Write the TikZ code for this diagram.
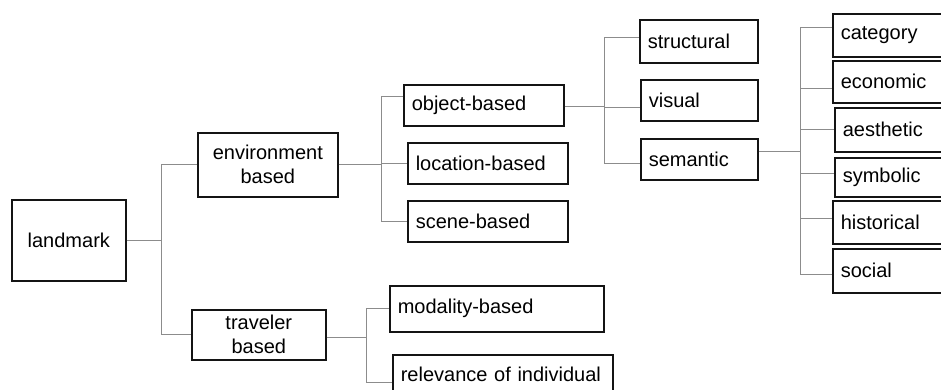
\documentclass[tikz,border=0pt]{standalone}
\usepackage{fontspec}
\setmainfont{Liberation Sans}
\begin{document}
\begin{tikzpicture}[x=1pt,y=-1pt,
  box/.style={draw=black!92, line width=1.6pt, anchor=north west,
    inner xsep=8pt, inner ysep=0pt, text=black,
    font=\fontsize{20}{24}\selectfont},
  lbox/.style={box, align=left, text width=#1-16pt},
  cbox/.style={box, align=center, text width=#1-16pt},
  conn/.style={draw=black!45, line width=1pt}]
\useasboundingbox (0,0) rectangle (941,390);
\clip (0,0) rectangle (941,390);

% root and first level
\node[cbox=114pt, minimum height=81pt] (landmark) at (11,199) {landmark};
\node[cbox=140pt, minimum height=64pt] (env) at (197,132) {environment\\based};
\node[cbox=134pt, minimum height=50pt] (trav) at (191,309) {traveler\\based};

% environment based
\node[lbox=160pt, minimum height=41pt] (obj) at (403,84) {object-based};
\node[lbox=160pt, minimum height=41pt] (loc) at (407,142) {location-based};
\node[lbox=160pt, minimum height=41pt] (scene) at (407,200) {scene-based};

% traveler based
\node[lbox=214pt, minimum height=46pt] (modal) at (389,285) {modality-based};
\node[lbox=220pt, minimum height=40pt] (relev) at (392,354) {relevance of individual};

% object-based
\node[lbox=118pt, minimum height=43pt] (struct) at (639,19) {structural};
\node[lbox=117pt, minimum height=41pt] (visual) at (640,79) {visual};
\node[lbox=117pt, minimum height=41pt] (sem) at (640,138) {semantic};

% semantic
\node[lbox=130pt, minimum height=43pt] (cat) at (832,13) {category};
\node[lbox=130pt, minimum height=42pt] (eco) at (832,60) {economic};
\node[lbox=130pt, minimum height=44pt] (aes) at (834,107) {aesthetic};
\node[lbox=130pt, minimum height=39pt] (sym) at (834,157) {symbolic};
\node[lbox=130pt, minimum height=43pt] (his) at (832,200) {historical};
\node[lbox=130pt, minimum height=44pt] (soc) at (832,248) {social};

% trunk positions
\coordinate (t1) at (161,0);
\coordinate (t2) at (381,0);
\coordinate (t3) at (366,0);
\coordinate (t4) at (604,0);
\coordinate (t5) at (800,0);

% where the connectors meet the boxes
\coordinate (objIn)    at ([yshift=8.5pt]obj.west);
\coordinate (objOut)   at ([yshift=-1.5pt]obj.east);
\coordinate (travOut)  at ([yshift=-3pt]trav.east);
\coordinate (relevIn)  at ([yshift=-8pt]relev.west);
\coordinate (structIn) at ([yshift=3.5pt]struct.west);
\coordinate (visualIn) at ([yshift=-7pt]visual.west);
\coordinate (semIn)    at ([yshift=-4.5pt]sem.west);
\coordinate (semOut)   at ([yshift=7.5pt]sem.east);
\coordinate (catIn)    at ([yshift=7.5pt]cat.west);
\coordinate (ecoIn)    at ([yshift=-7pt]eco.west);
\coordinate (symIn)    at ([yshift=4pt]sym.west);
\coordinate (hisIn)    at ([yshift=3.5pt]his.west);
\coordinate (socIn)    at ([yshift=-4pt]soc.west);

% landmark
\draw[conn] (landmark.east) -- (landmark.east -| t1);
\draw[conn] (env.west) -| (t1 |- trav.west) -- (trav.west);

% environment based
\draw[conn] (env.east) -- (env.east -| t2);
\draw[conn] (objIn) -| (t2 |- scene.west) -- (scene.west);
\draw[conn] (t2 |- loc.west) -- (loc.west);

% traveler based
\draw[conn] (travOut) -- (travOut -| t3);
\draw[conn] (modal.west) -| (t3 |- relevIn) -- (relevIn);

% object-based
\draw[conn] (objOut) -- (objOut -| t4);
\draw[conn] (structIn) -| (t4 |- semIn) -- (semIn);
\draw[conn] (t4 |- visualIn) -- (visualIn);

% semantic
\draw[conn] (semOut) -- (semOut -| t5);
\draw[conn] (catIn) -| (t5 |- socIn) -- (socIn);
\draw[conn] (t5 |- ecoIn) -- (ecoIn);
\draw[conn] (t5 |- aes.west) -- (aes.west);
\draw[conn] (t5 |- symIn) -- (symIn);
\draw[conn] (t5 |- hisIn) -- (hisIn);
\end{tikzpicture}
\end{document}
